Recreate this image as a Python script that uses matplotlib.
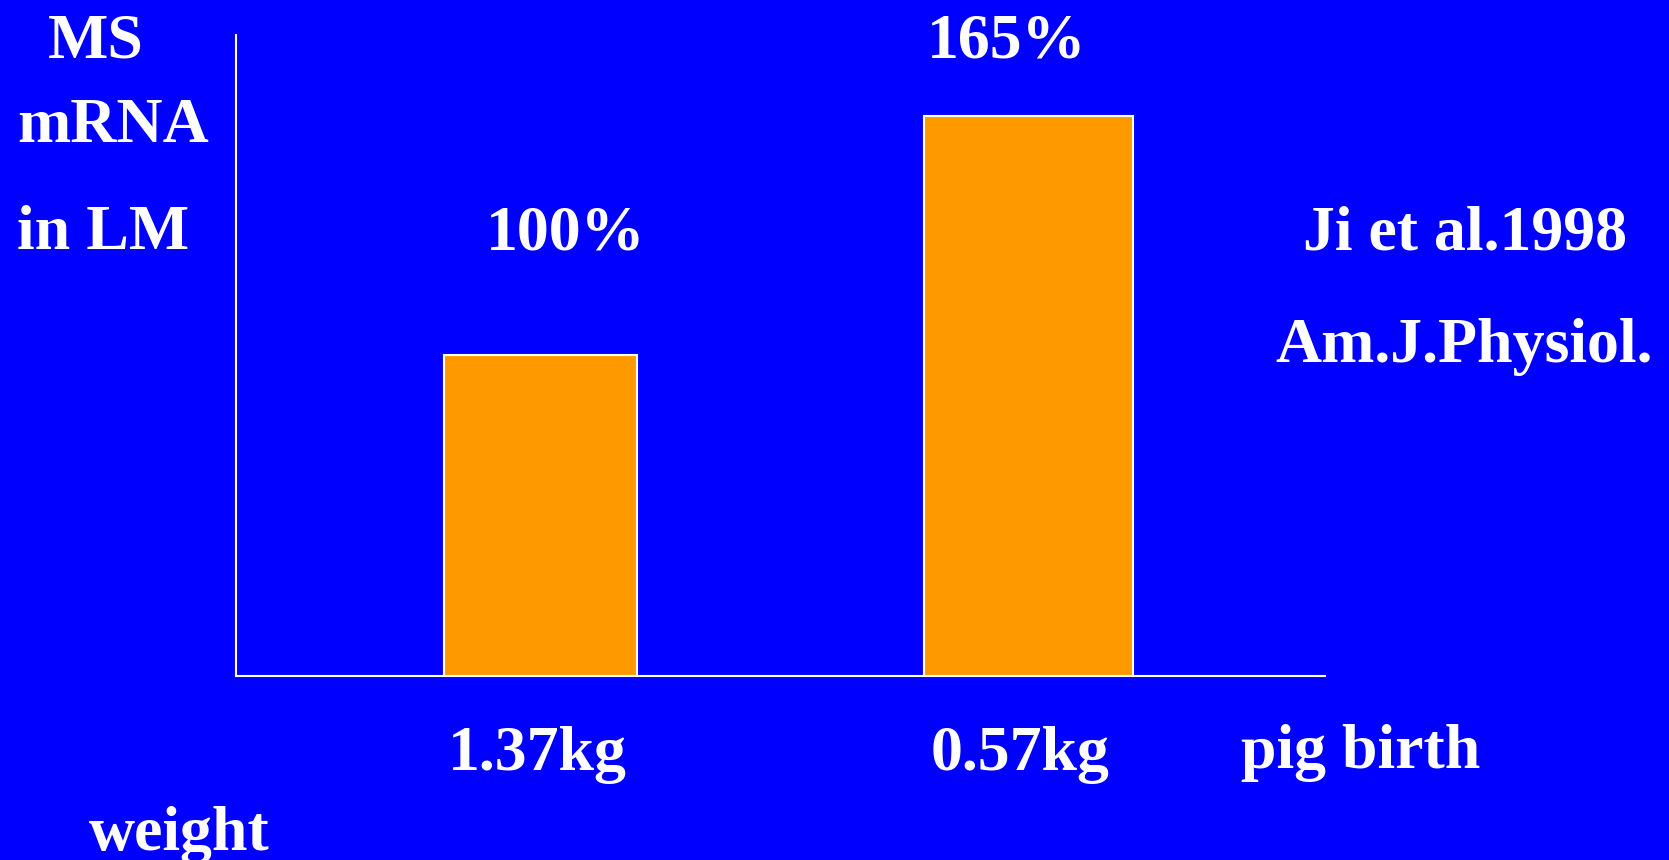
import matplotlib
matplotlib.use('Agg')
import matplotlib.pyplot as plt
import matplotlib.transforms as mtransforms

groups = ['1.37kg', '0.57kg']
values = [100, 165]
value_labels = ['100%', '165%']
positions = [0, 1]
widths = [0.395, 0.428]

W, H = 1669, 860
BLUE = '#0000FF'
ORANGE = '#FF9900'
FONT = 'Liberation Serif'
FS = 46

plt.rcParams['font.family'] = FONT
plt.rcParams['font.weight'] = 'bold'

fig = plt.figure(figsize=(W / 100, H / 100), dpi=100, facecolor=BLUE)

def px(x, y):
    # pixel position (from top-left) -> figure fraction
    return x / W, 1 - y / H

ax_l, ax_t = px(236, 35)
ax_r, ax_b = px(1325, 676)
ax = fig.add_axes([ax_l, ax_b, ax_r - ax_l, ax_t - ax_b])
ax.set_facecolor(BLUE)

ax.bar(positions, values, width=widths, color=ORANGE, edgecolor='white', linewidth=1.5)
ax.set_xlim(-0.624, 1.608)
ax.set_ylim(12.7, 187)

for s in ['top', 'right']:
    ax.spines[s].set_visible(False)
for s in ['left', 'bottom']:
    ax.spines[s].set_color('white')
    ax.spines[s].set_linewidth(1.5)
ax.set_xticks([])
ax.set_yticks([])

# value labels above bars
offsets = [(18, 75.6), (-15.5, 41.8)]
for xpos, v, lab, off in zip(positions, values, value_labels, offsets):
    ax.annotate(lab, (xpos, v), textcoords='offset points', xytext=off,
                ha='center', va='baseline', color='white', fontsize=FS, fontweight='bold')

# group labels under the axis
trans = mtransforms.blended_transform_factory(ax.transData, ax.transAxes)
group_dx = [-0.006, -0.017]
for xpos, g, dx in zip(positions, groups, group_dx):
    ax.text(xpos + dx, -0.1466, g, transform=trans, ha='center', va='baseline',
            color='white', fontsize=FS, fontweight='bold')

# axis titles and citation
texts = [
    ('MS', 48, 57),
    ('mRNA', 17, 142),
    ('in LM', 17, 249),
    ('Ji et al.1998', 1303, 249),
    ('Am.J.Physiol.', 1275, 362),
    ('pig birth', 1241, 768),
    ('weight', 89, 850),
]
for t, x, y in texts:
    fx, fy = px(x, y)
    fig.text(fx, fy, t, ha='left', va='baseline', color='white',
             fontsize=FS, fontweight='bold')

fig.savefig('out.png', dpi=100, facecolor=BLUE)
